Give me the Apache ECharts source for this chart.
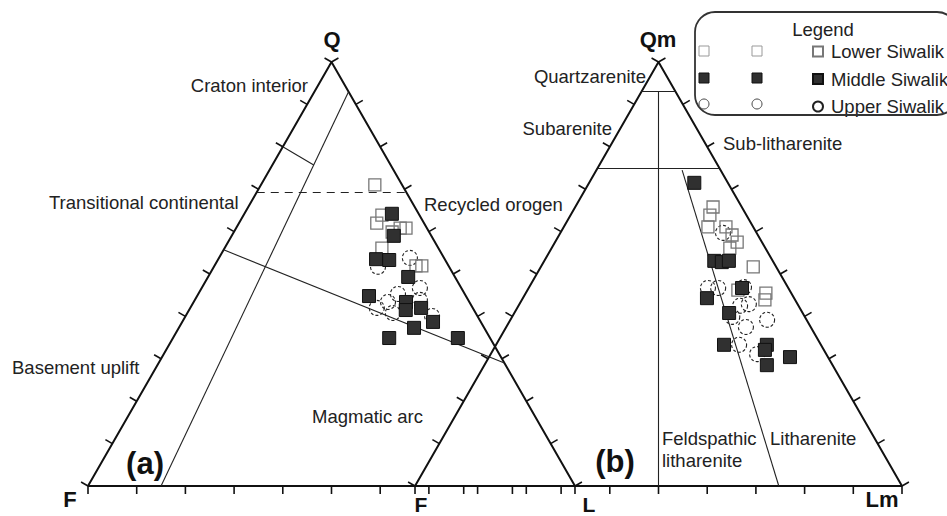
<!DOCTYPE html>
<html>
<head>
<meta charset="utf-8">
<script src="https://cdn.jsdelivr.net/npm/echarts@6/dist/echarts.min.js"></script>
<style>
  html, body { margin: 0; padding: 0; background: #fff; }
  #chart { width: 947px; height: 516px; }
</style>
</head>
<body>
<div id="chart"></div>
<script>
// Sandstone modal compositions, in percent.
// Diagram (a): [Q, F, L]     Diagram (b): [Qm, F, Lm]
const seriesNames = ['Lower Siwalik', 'Middle Siwalik', 'Upper Siwalik'];

const lowerQFL = [
  [71.0, 5.6, 23.4], [63.9, 7.7, 28.4], [62.0, 9.7, 28.3], [60.8, 5.5, 33.7],
  [60.8, 4.3, 34.9], [59.9, 7.6, 32.5], [56.1, 11.6, 32.3], [51.9, 6.7, 41.4],
  [51.9, 5.5, 42.6]
];
const middleQFL = [
  [64.2, 5.5, 30.3], [59.0, 7.7, 33.3], [53.5, 14.1, 32.4], [53.3, 11.5, 35.2],
  [49.3, 9.6, 41.1], [44.8, 19.9, 35.3], [43.4, 13.0, 43.6], [41.5, 14.0, 44.5],
  [42.0, 10.6, 47.4], [38.7, 9.8, 51.5], [37.3, 14.4, 48.3], [34.9, 20.7, 44.4],
  [34.9, 6.6, 58.5]
];
const upperQFL = [
  [51.7, 14.6, 33.7], [53.8, 7.0, 39.2], [46.7, 8.5, 44.8], [45.3, 13.7, 41.0],
  [43.4, 16.7, 39.9], [42.0, 19.7, 38.3], [40.8, 17.0, 42.2], [43.9, 9.9, 46.2],
  [40.1, 9.3, 50.6]
];

const lowerQmFLm = [
  [65.8, 5.9, 28.3], [63.9, 7.5, 28.6], [61.1, 9.3, 29.6], [61.1, 5.6, 33.3],
  [59.2, 5.3, 35.5], [57.5, 5.1, 37.4], [56.1, 7.3, 36.6], [51.7, 4.7, 43.6],
  [46.2, 10.6, 43.2], [45.5, 5.2, 49.3], [43.9, 6.2, 49.9]
];
const middleQmFLm = [
  [71.5, 6.9, 21.6], [53.1, 12.0, 34.9], [52.8, 10.6, 36.6], [53.1, 9.0, 37.9],
  [46.7, 9.5, 43.8], [44.3, 17.9, 37.8], [40.8, 15.1, 44.1], [33.3, 19.9, 46.8],
  [33.3, 11.1, 55.6], [32.1, 12.1, 55.8], [28.5, 13.5, 58.0], [30.4, 7.8, 61.8]
];
const upperQmFLm = [
  [59.7, 6.9, 33.4], [46.7, 16.5, 36.8], [46.7, 14.4, 38.9], [46.9, 9.0, 44.1],
  [42.5, 12.0, 45.5], [42.9, 10.0, 47.1], [39.9, 14.9, 45.2], [39.2, 8.1, 52.7],
  [37.5, 13.3, 49.2], [33.3, 16.8, 49.9], [31.1, 14.2, 54.7]
];

// Graduations along every side of both triangles (percent)
const tickPercents = [0, 10, 20, 30, 40, 50, 60, 70, 80, 90, 100];

// Provenance field boundaries (Dickinson QFL), end points as compositions
const qflFieldLines = [
  [[93, 0, 7], [0, 85, 15]],
  [[80, 20, 0], [75.7, 15.8, 8.5]],
  [[55.7, 44.3, 0], [29, 0, 71]]
];
const qflDashedLines = [
  [[69.3, 30.7, 0], [69.3, 0, 30.7]]
];
// Sandstone classification boundaries (Folk)
const qmflmFieldLines = [
  [[93, 7, 0], [93, 0, 7]],
  [[75, 25, 0], [75, 0, 25]],
  [[93, 3.5, 3.5], [0, 50, 50]],
  [[74.5, 7.9, 17.6], [0, 25.3, 74.7]]
];

// ---- layout ----
const FONT = '"Liberation Sans", Arial, Helvetica, sans-serif';
const GRID = { left: 88, top: 62, width: 814, height: 424 };
const X_MAX = 167.15;            // both triangles share one base line, 100 units each
const OFFSET_A = 0;
const OFFSET_B = 67.15;
const KX = GRID.width / X_MAX;   // px per unit
const KY = GRID.height / 100;

// ternary composition -> cartesian (units of the shared axes)
function project(c, offset) {
  const s = c[0] + c[1] + c[2];
  const q = c[0] / s * 100, l = c[2] / s * 100;
  return [offset + l + q / 2, q];
}

// outward tick directions (pixels): bottom, left side, right side
const edgeLen = Math.hypot(50 * KX, 100 * KY);
const TICK_DIRS = [
  [0, 1],
  [-100 * KY / edgeLen, -50 * KX / edgeLen],
  [100 * KY / edgeLen, -50 * KX / edgeLen]
];
const TICK_LEN = 8;

function buildTicks(offset) {
  const out = [];
  tickPercents.forEach(p => {
    out.push(project([0, 100 - p, p], offset).concat(0));
    out.push(project([p, 100 - p, 0], offset).concat(1));
    out.push(project([p, 0, 100 - p], offset).concat(2));
  });
  return out;
}
const tickData = buildTicks(OFFSET_A).concat(buildTicks(OFFSET_B));

function segments(list, offset) {
  return list.map(seg => ({ coords: seg.map(c => project(c, offset)) }));
}
function frame(offset) {
  return [
    { coords: [project([0, 100, 0], offset), project([100, 0, 0], offset), project([0, 0, 100], offset)] }
  ];
}
const baseLine = [{ coords: [project([0, 100, 0], OFFSET_A), project([0, 0, 100], OFFSET_B)] }];

// ---- marker styles ----
const styles = {
  'Lower Siwalik':  { symbol: 'rect', symbolSize: 12, z: 4,
    itemStyle: { color: 'rgba(255,255,255,0)', borderColor: '#777', borderWidth: 1.3, opacity: 1 } },
  'Middle Siwalik': { symbol: 'rect', symbolSize: 13, z: 5,
    itemStyle: { color: '#303030', borderColor: '#111', borderWidth: 1, opacity: 1 } },
  'Upper Siwalik':  { symbol: 'circle', symbolSize: 15, z: 3,
    itemStyle: { color: 'rgba(255,255,255,0)', borderColor: '#222', borderWidth: 1.1, borderType: [3, 2], opacity: 1 } }
};

function scatter(name, data, offset) {
  const st = styles[name];
  return {
    type: 'scatter', name: name,
    data: data.map(c => project(c, offset)),
    symbol: st.symbol, symbolSize: st.symbolSize, z: st.z,
    itemStyle: st.itemStyle,
    emphasis: { disabled: true }, silent: true
  };
}

function text(str, x, y, opts) {
  return {
    type: 'text', x: x, y: y, z: 10, silent: true,
    style: Object.assign({
      text: str, fontFamily: FONT, fontSize: 18.5, fill: '#222',
      align: 'left', verticalAlign: 'middle'
    }, opts || {})
  };
}

// extra symbol columns inside the legend frame
function legendSymbols(cx) {
  return [
    { type: 'rect', z: 10, shape: { x: cx - 5, y: 46, width: 10, height: 10 },
      style: { fill: '#fff', stroke: '#999', lineWidth: 1 } },
    { type: 'rect', z: 10, shape: { x: cx - 5, y: 73, width: 10, height: 10 },
      style: { fill: '#303030', stroke: '#111', lineWidth: 1 } },
    { type: 'circle', z: 10, shape: { cx: cx, cy: 104, r: 5 },
      style: { fill: '#fff', stroke: '#444', lineWidth: 1 } }
  ];
}

const chart = echarts.init(document.getElementById('chart'), null, { renderer: 'svg' });

chart.setOption({
  animation: false,
  backgroundColor: '#fff',
  grid: GRID,
  xAxis: { type: 'value', min: 0, max: X_MAX, show: false },
  yAxis: { type: 'value', min: 0, max: 100, show: false },
  legend: {
    orient: 'vertical', left: 807, top: 37,
    itemWidth: 10, itemHeight: 10, itemGap: 8.5,
    selectedMode: false,
    data: seriesNames,
    textStyle: { fontFamily: FONT, fontSize: 18.5, color: '#222', lineHeight: 18, padding: [0, 0, 0, 3] }
  },
  graphic: [
    { type: 'rect', z: 9, shape: { x: 695, y: 12, width: 262, height: 103, r: 20 },
      style: { fill: 'rgba(255,255,255,0)', stroke: '#333', lineWidth: 1.8 } },
    text('Legend', 823, 29, { align: 'center' }),
    ...legendSymbols(704),
    ...legendSymbols(757),

    text('Q', 332, 39, { fontSize: 22, fontWeight: 'bold', fill: '#111', align: 'center' }),
    text('F', 70, 499, { fontSize: 22, fontWeight: 'bold', fill: '#111', align: 'center' }),
    text('F', 421, 504, { fontSize: 21, fontWeight: 'bold', fill: '#111', align: 'center' }),
    text('L', 589, 504, { fontSize: 21, fontWeight: 'bold', fill: '#111', align: 'center' }),
    text('Qm', 658, 39, { fontSize: 22, fontWeight: 'bold', fill: '#111', align: 'center' }),
    text('Lm', 882, 499, { fontSize: 22, fontWeight: 'bold', fill: '#111', align: 'center' }),
    text('(a)', 145, 463, { fontSize: 31, fontWeight: 'bold', fill: '#111', align: 'center' }),
    text('(b)', 615, 461, { fontSize: 31, fontWeight: 'bold', fill: '#111', align: 'center' }),

    text('Craton interior', 308, 85, { align: 'right' }),
    text('Transitional continental', 49, 202),
    text('Recycled orogen', 424, 204),
    text('Basement uplift', 12, 367),
    text('Magmatic arc', 312, 416),

    text('Quartzarenite', 646, 76, { align: 'right' }),
    text('Subarenite', 612, 128, { align: 'right' }),
    text('Sub-litharenite', 723, 143),
    text('Feldspathic', 662, 438),
    text('litharenite', 662, 460),
    text('Litharenite', 770, 438)
  ],
  series: [
    // triangle outlines and shared base
    { type: 'lines', coordinateSystem: 'cartesian2d', polyline: true, silent: true, z: 2,
      data: frame(OFFSET_A).concat(frame(OFFSET_B)),
      lineStyle: { color: '#111', width: 2, opacity: 1 } },
    { type: 'lines', coordinateSystem: 'cartesian2d', silent: true, z: 2,
      data: baseLine, lineStyle: { color: '#111', width: 2, opacity: 1 } },
    // field boundaries
    { type: 'lines', coordinateSystem: 'cartesian2d', silent: true, z: 2,
      data: segments(qflFieldLines, OFFSET_A).concat(segments(qmflmFieldLines, OFFSET_B)),
      lineStyle: { color: '#222', width: 1.1, opacity: 1 } },
    { type: 'lines', coordinateSystem: 'cartesian2d', silent: true, z: 2,
      data: segments(qflDashedLines, OFFSET_A),
      lineStyle: { color: '#222', width: 1.2, opacity: 1, type: [8, 6] } },
    // graduation ticks
    { type: 'custom', silent: true, clip: false, z: 2,
      data: tickData,
      renderItem: function (params, api) {
        const p = api.coord([api.value(0), api.value(1)]);
        const d = TICK_DIRS[api.value(2)];
        return {
          type: 'line',
          shape: { x1: p[0], y1: p[1], x2: p[0] + d[0] * TICK_LEN, y2: p[1] + d[1] * TICK_LEN },
          style: { stroke: '#111', lineWidth: 1.6 }
        };
      } },
    // samples
    scatter('Upper Siwalik', upperQFL, OFFSET_A),
    scatter('Lower Siwalik', lowerQFL, OFFSET_A),
    scatter('Middle Siwalik', middleQFL, OFFSET_A),
    scatter('Upper Siwalik', upperQmFLm, OFFSET_B),
    scatter('Lower Siwalik', lowerQmFLm, OFFSET_B),
    scatter('Middle Siwalik', middleQmFLm, OFFSET_B)
  ]
});
</script>
</body>
</html>
